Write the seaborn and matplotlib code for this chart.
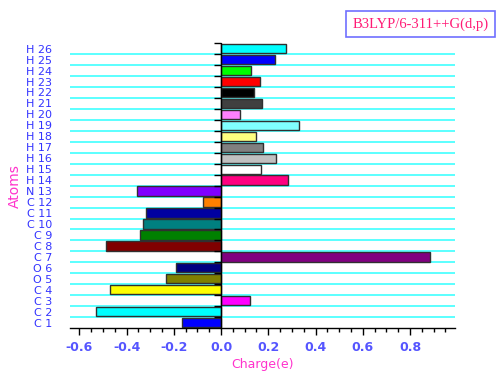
import numpy as np
import pandas as pd
import matplotlib
matplotlib.use("Agg")
import matplotlib.pyplot as plt
from matplotlib.ticker import MultipleLocator
import seaborn as sns

sns.set_style("white")
plt.rcParams['font.family'] = ['DejaVu Sans']

# atoms from bottom (C1) to top (H26)
atoms = ['C1', 'C2', 'C3', 'C4', 'O5', 'O6', 'C7', 'C8', 'C9', 'C10', 'C11', 'C12', 'N13',
         'H14', 'H15', 'H16', 'H17', 'H18', 'H19', 'H20', 'H21', 'H22', 'H23', 'H24', 'H25', 'H26']
charges = [-0.167, -0.531, 0.123, -0.472, -0.232, -0.192, 0.884, -0.486, -0.344, -0.332, -0.319,
           -0.078, -0.355, 0.284, 0.169, 0.233, 0.177, 0.148, 0.328, 0.079, 0.172, 0.140, 0.165,
           0.126, 0.229, 0.275]
colors = ['#0000FF', '#00FFFF', '#FF00FF', '#FFFF00', '#808000', '#000080', '#800080', '#800000',
          '#008000', '#008080', '#0000A0', '#FF8000', '#8000FF', '#FF0080', '#FFFFFF', '#C0C0C0',
          '#808080', '#FFFF80', '#80FFFF', '#FF80FF', '#404040', '#000000', '#FF0000', '#00FF00',
          '#0000FF', '#00FFFF']
tick_labels = [a[0] + ' ' + a[1:] for a in atoms]

df = pd.DataFrame({'atom': atoms, 'charge': charges})
order = atoms[::-1]
pal = dict(zip(atoms, colors))

fig = plt.figure(figsize=(4.96, 3.72), dpi=100)
ax = fig.add_axes([0.141, 0.118, 0.776, 0.766])

# grid lines between categories
for k in range(len(atoms) - 1):
    ax.axhline(k + 0.5, color='#40FFFF', lw=1.2, zorder=0)

sns.barplot(data=df, x='charge', y='atom', hue='atom', order=order, hue_order=atoms,
            palette=pal, legend=False, orient='h', width=0.85, saturation=1, ax=ax,
            edgecolor='#303030', linewidth=1.0, zorder=2)

ax.set_xlim(-0.64, 0.99)
ax.set_ylim(len(atoms) - 0.5, -0.5)

ax.axvline(0, color='black', lw=1.0, zorder=3)
ax.scatter(np.zeros(len(atoms)), np.arange(len(atoms)) - 0.5, marker=0, s=25,
           color='black', lw=1.0, zorder=4, clip_on=False)

ax.set_yticks(range(len(atoms)))
ax.set_yticklabels(tick_labels[::-1], color='#3333FF', fontsize=8)
ax.tick_params(axis='y', length=0, pad=13)

ax.xaxis.set_major_locator(MultipleLocator(0.2))
ax.xaxis.set_minor_locator(MultipleLocator(0.05))
ax.set_xticks(np.arange(-0.6, 0.81, 0.2))
ax.set_xticklabels(['%.1f' % v for v in np.arange(-0.6, 0.81, 0.2)],
                   color='#5555FF', fontsize=9, fontweight='bold')
ax.tick_params(axis='x', which='major', direction='out', length=5, width=1, color='black',
               bottom=True, pad=4)
ax.tick_params(axis='x', which='minor', direction='out', length=3, width=1, color='black',
               bottom=True)

for s in ['left', 'right', 'top']:
    ax.spines[s].set_visible(False)
ax.spines['bottom'].set_color('black')
ax.spines['bottom'].set_linewidth(1.0)

ax.set_xlabel('Charge(e)', color='#FF33CC', fontsize=9, labelpad=3)
ax.set_ylabel('Atoms', color='#FF33CC', fontsize=10)
ax.yaxis.set_label_coords(-0.125, 0.5)

fig.text(0.985, 0.935, 'B3LYP/6-311++G(d,p)', family='Liberation Serif', fontsize=10.5,
         color='#FF1A75', ha='right', va='center',
         bbox=dict(boxstyle='square,pad=0.45', fc='white', ec='#7070FF', lw=1.2))

fig.savefig('out.png', dpi=100)
